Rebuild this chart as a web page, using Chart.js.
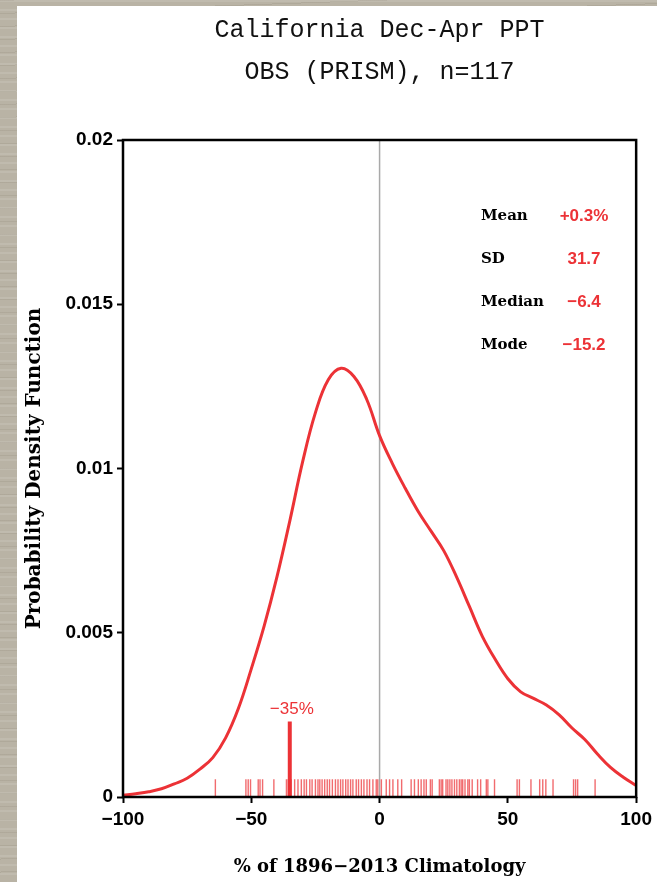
<!DOCTYPE html>
<html>
<head>
<meta charset="utf-8">
<script src="https://cdn.jsdelivr.net/npm/chart.js@4.4.1/dist/chart.umd.min.js"></script>
<style>
  html, body { margin: 0; padding: 0; width: 657px; height: 882px; overflow: hidden; }
  body {
    position: relative;
    background-color: #b9b3a5;
    background-image:
      repeating-linear-gradient(180deg, rgba(255,255,255,0.10) 0 2px, rgba(0,0,0,0) 2px 9px),
      repeating-linear-gradient(178deg, rgba(90,80,60,0.10) 0 1px, rgba(0,0,0,0) 1px 13px);
  }
  #panel { position: absolute; left: 17px; top: 6px; width: 640px; height: 876px; background: #fff; }
  #wrap { position: absolute; left: 0; top: 0; width: 657px; height: 882px; }
</style>
</head>
<body>
<div id="panel"></div>
<div id="wrap"><canvas id="pdfChart" width="657" height="882"></canvas></div>
<script>
// smoothed PDF
const pdfX = [-100, -95, -90, -85, -80, -75, -70, -65, -60, -55, -50, -45, -40, -35, -30, -25, -20, -15, -10, -5,
              0, 5, 10, 15, 20, 25, 30, 35, 40, 45, 50, 55, 60, 65, 70, 75, 80, 85, 90, 95, 100];
const pdfY = [0.00005, 0.0001, 0.00016, 0.00025, 0.0004, 0.00057, 0.00085, 0.0012, 0.0018, 0.0027, 0.0039, 0.0052,
              0.0067, 0.0084, 0.0102, 0.0117, 0.0127, 0.01305, 0.0128, 0.0121,
              0.0110, 0.01015, 0.0094, 0.0087, 0.0081, 0.0075, 0.0067, 0.0058, 0.0049, 0.0042, 0.0036, 0.0032, 0.0030,
              0.0028, 0.0025, 0.0021, 0.00175, 0.0013, 0.0009, 0.0006, 0.00035];

// individual years (rug)
const rugX = [-64, -52.1, -51.2, -50.3, -47.3, -46.6, -45.6, -41.2, -36.3, -35.6, -34.5, -33.1, -31.8, -30.5, -29.4,
              -28.5, -27.2, -26.3, -25, -24, -23.3, -22.4, -21.4, -20.4, -19.5, -18.4, -17.2, -16.2, -15.2, -14.3,
              -13.2, -12.3, -11.3, -10.4, -9.1, -8.2, -7.1, -6.1, -4.9, -3.9, -2.6, -1.3, -0.7, 0.7, 2.6, 3.9, 5.2,
              7.1, 8.6, 12.3, 13.6, 15.1, 16.2, 17.3, 18.2, 19.8, 20.5, 23.3, 24, 24.6, 25.9, 26.6, 27.4, 28.2, 29.2,
              30.1, 31.1, 31.8, 32.4, 33.3, 34.4, 35, 36.1, 38.2, 39.4, 41.6, 42.2, 44.8, 53.6, 54.5, 59, 62.4,
              63.6, 64.8, 67.6, 75.6, 76.4, 77.2, 84];

const obsValue = -35;
const obsBarTop = 0.0023;
const obsLabel = '\u221235%';

const statLabels = ['Mean', 'SD', 'Median', 'Mode'];
const statValues = ['+0.3%', '31.7', '\u22126.4', '\u221215.2'];

const xTickLabels = ['\u2212100', '\u221250', '0', '50', '100'];
const yTickLabels = ['0', '0.005', '0.01', '0.015', '0.02'];

const red = '#ec3236';
const rugRed = 'rgba(236, 50, 54, 0.72)';

const framePlugin = {
    id: 'frame',
    afterDatasetsDraw(chart) {
        const { ctx, chartArea: a } = chart;
        ctx.save();
        ctx.strokeStyle = '#000';
        ctx.lineWidth = 2.5;
        ctx.strokeRect(a.left, a.top, a.right - a.left, a.bottom - a.top);
        ctx.restore();
    }
};

const notesPlugin = {
    id: 'notes',
    afterDraw(chart) {
        const { ctx, chartArea: a, scales: { x, y } } = chart;
        ctx.save();
        ctx.textBaseline = 'middle';

        ctx.fillStyle = red;
        ctx.font = '17px "Liberation Sans", Arial, sans-serif';
        ctx.textAlign = 'center';
        ctx.fillText(obsLabel, x.getPixelForValue(obsValue) + 2, y.getPixelForValue(obsBarTop) - 12);

        statLabels.forEach((lab, i) => {
            const yy = a.top + 76 + i * 43;
            ctx.fillStyle = '#000';
            ctx.font = 'bold 15px "DejaVu Serif", serif';
            ctx.textAlign = 'left';
            ctx.fillText(lab, a.left + 358, yy);
            ctx.fillStyle = red;
            ctx.font = 'bold 17px "Liberation Sans", Arial, sans-serif';
            ctx.textAlign = 'center';
            ctx.fillText(statValues[i], a.left + 461, yy);
        });
        ctx.restore();
    }
};

const ctx = document.getElementById('pdfChart').getContext('2d');
new Chart(ctx, {
    type: 'scatter',
    data: {
        datasets: [
            {
                data: pdfX.map((v, i) => ({ x: v, y: pdfY[i] })),
                showLine: true,
                borderColor: red,
                borderWidth: 3,
                pointRadius: 0,
                tension: 0.4
            },
            {
                data: [{ x: obsValue, y: 0 }, { x: obsValue, y: obsBarTop }],
                showLine: true,
                borderColor: red,
                borderWidth: 4,
                pointRadius: 0,
                borderCapStyle: 'butt'
            },
            {
                data: rugX.map(v => ({ x: v, y: 0.00027 })),
                showLine: false,
                pointStyle: 'line',
                rotation: 90,
                pointRadius: 9,
                borderColor: rugRed,
                backgroundColor: rugRed,
                pointBorderWidth: 1.4
            },
            {
                data: [{ x: 0, y: 0 }, { x: 0, y: 0.02 }],
                showLine: true,
                borderColor: '#a9a9a9',
                borderWidth: 1.5,
                pointRadius: 0
            }
        ]
    },
    options: {
        responsive: false,
        animation: false,
        events: [],
        layout: { padding: { left: 17, top: 6, right: 20, bottom: 0 } },
        plugins: {
            legend: { display: false },
            tooltip: { enabled: false },
            title: {
                display: true,
                text: 'California Dec-Apr PPT',
                fullSize: false,
                color: '#111',
                font: { family: '"Liberation Mono", monospace', size: 25, weight: 'normal', lineHeight: 1.2 },
                padding: { top: 9, bottom: 0 }
            },
            subtitle: {
                display: true,
                text: 'OBS (PRISM), n=117',
                fullSize: false,
                color: '#111',
                font: { family: '"Liberation Mono", monospace', size: 25, weight: 'normal', lineHeight: 1.2 },
                padding: { top: 12, bottom: 53 }
            }
        },
        scales: {
            x: {
                type: 'linear',
                min: -100,
                max: 100,
                border: { display: false },
                grid: { drawOnChartArea: false, drawTicks: true, tickLength: 6, tickColor: '#000', tickWidth: 2 },
                ticks: {
                    stepSize: 50,
                    color: '#000',
                    padding: 5,
                    maxRotation: 0,
                    font: { family: '"Liberation Sans", Arial, sans-serif', size: 19, weight: 'bold' },
                    callback: (value, index) => xTickLabels[index]
                },
                title: {
                    display: true,
                    text: '% of 1896\u22122013 Climatology',
                    color: '#000',
                    font: { family: '"DejaVu Serif", serif', size: 18, weight: 'bold' },
                    padding: { top: 0, bottom: 4 }
                },
                afterFit(scale) { scale.height = 85; }
            },
            y: {
                type: 'linear',
                min: 0,
                max: 0.02,
                border: { display: false },
                grid: { drawOnChartArea: false, drawTicks: true, tickLength: 6, tickColor: '#000', tickWidth: 2 },
                ticks: {
                    stepSize: 0.005,
                    color: '#000',
                    padding: 4,
                    font: { family: '"Liberation Sans", Arial, sans-serif', size: 19, weight: 'bold' },
                    callback: (value, index) => yTickLabels[index]
                },
                title: {
                    display: true,
                    text: 'Probability Density Function',
                    color: '#000',
                    font: { family: '"DejaVu Serif", serif', size: 20, weight: 'bold' },
                    padding: { top: 6, bottom: 0 }
                },
                afterFit(scale) { scale.width = 106; }
            }
        }
    },
    plugins: [framePlugin, notesPlugin]
});
</script>
</body>
</html>
